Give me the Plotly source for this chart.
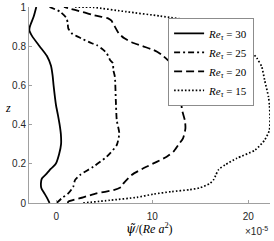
import plotly.graph_objects as go

# Re_tau = 30 (solid)
z30 = [0, 0.025, 0.05, 0.075, 0.1, 0.125, 0.15, 0.175, 0.2, 0.25, 0.3, 0.35, 0.4, 0.45, 0.5, 0.6, 0.65, 0.7, 0.75, 0.8, 0.85, 0.88, 0.9, 0.95, 1.0]
psi30 = [-0.7, -0.95, -1.25, -1.55, -1.6, -1.5, -1.0, -0.55, -0.05, 0.3, 0.5, 0.48, 0.35, 0.17, -0.03, -0.28, -0.38, -0.55, -0.97, -1.74, -2.5, -2.8, -2.75, -2.36, -2.08]

# Re_tau = 25 (dash-dot)
z25 = [0, 0.024, 0.049, 0.083, 0.117, 0.143, 0.185, 0.236, 0.296, 0.356, 0.423, 0.526, 0.645, 0.679, 0.713, 0.73, 0.764, 0.781, 0.806, 0.815, 0.84, 0.866, 0.891, 0.917, 0.942, 0.976, 1.0]
psi25 = [0.04, 0.56, 1.25, 1.77, 1.95, 2.47, 3.85, 5.25, 6.3, 6.56, 6.3, 6.2, 6.1, 5.94, 5.9, 5.6, 5.25, 4.9, 4.2, 3.69, 2.6, 1.6, 1.25, 1.19, 1.08, 0.39, -0.7]

# Re_tau = 20 (dashed)
z20 = [0, 0.007, 0.029, 0.049, 0.066, 0.083, 0.10, 0.143, 0.177, 0.21, 0.236, 0.262, 0.296, 0.33, 0.38, 0.42, 0.474, 0.52, 0.6, 0.68, 0.72, 0.755, 0.772, 0.785, 0.80, 0.82, 0.84, 0.866, 0.9, 0.917, 0.93, 0.942, 0.95, 0.96, 0.971, 0.985, 1.0]
psi20 = [1.2, 1.25, 2.8, 4.2, 5.97, 6.8, 7.0, 7.85, 9.07, 10.46, 11.5, 12.2, 12.7, 13.2, 13.45, 13.4, 13.1, 13.0, 12.8, 12.3, 11.8, 11.0, 10.5, 9.9, 9.0, 7.85, 7.1, 6.5, 6.1, 5.9, 5.75, 5.4, 4.7, 3.8, 3.0, 1.95, 0.8]

# Re_tau = 15 (dotted)
z15 = [0, 0.014, 0.029, 0.045, 0.058, 0.068, 0.078, 0.10, 0.12, 0.14, 0.17, 0.195, 0.228, 0.27, 0.321, 0.372, 0.44, 0.5, 0.542, 0.627, 0.695, 0.738, 0.8, 0.86, 0.9, 0.925, 0.954, 0.976, 0.998, 1.0]
psi15 = [2.8, 5.6, 8.4, 10.1, 12.0, 13.9, 15.0, 16.0, 16.4, 16.6, 16.9, 17.6, 18.8, 20.7, 21.7, 22.2, 22.26, 22.2, 22.1, 21.7, 21.4, 20.9, 19.8, 18.0, 16.2, 14.8, 10.8, 7.3, 3.85, 1.8]

labels = ["<i>Re</i><sub><i>τ</i></sub> = 30", "<i>Re</i><sub><i>τ</i></sub> = 25",
          "<i>Re</i><sub><i>τ</i></sub> = 20", "<i>Re</i><sub><i>τ</i></sub> = 15"]
x_ticks = [0, 10, 20]
x_ticklabels = ["0", "10", "20"]
y_ticks = [0, 0.2, 0.4, 0.6, 0.8, 1.0]
y_ticklabels = ["0", "0.2", "0.4", "0.6", "0.8", "1"]

series = [(psi30, z30, "solid", 1.8), (psi25, z25, "6px,3px,2px,3px", 1.8),
          (psi20, z20, "8px,4px", 1.8), (psi15, z15, "1.6px,2px", 1.7)]

fig = go.Figure()
for (xs, zs, dash, w), lab in zip(series, labels):
    fig.add_trace(go.Scatter(x=xs, y=zs, mode="lines", name=lab,
                             line=dict(color="black", width=w, dash=dash, shape="spline", smoothing=0.6)))

axis_col = "#a0a0a0"
fig.update_layout(
    width=274, height=241,
    margin=dict(l=29, r=4, t=7, b=38, autoexpand=False),
    paper_bgcolor="white", plot_bgcolor="white",
    showlegend=True,
    legend=dict(x=0.934, y=0.945, xanchor="right", yanchor="top",
                bgcolor="white", bordercolor="#8c8c8c", borderwidth=1,
                font=dict(family="Liberation Serif", size=11, color="black"),
                tracegroupgap=0, itemwidth=30),
    xaxis=dict(range=[-2.84, 22.26], tickvals=x_ticks, ticktext=x_ticklabels, automargin=False,
               showline=True, linecolor=axis_col, linewidth=1, mirror=False,
               ticks="inside", ticklen=3, tickcolor=axis_col, showgrid=False, zeroline=False,
               ticklabelstandoff=4, ticklabeloverflow="allow",
               tickfont=dict(family="Liberation Sans", size=10, color="#262626")),
    yaxis=dict(range=[0, 1], tickvals=y_ticks, ticktext=y_ticklabels, automargin=False,
               showline=True, linecolor=axis_col, linewidth=1, mirror=False,
               ticks="inside", ticklen=3, tickcolor=axis_col, showgrid=False, zeroline=False,
               ticklabeloverflow="allow",
               tickfont=dict(family="Liberation Sans", size=10, color="#262626")),
    annotations=[
        dict(text="<span style='font-family:DejaVu Serif'><i>ψ̃</i></span>/(<i>Re a</i><sup>2</sup>)",
             xref="paper", yref="paper",
             x=0.5, y=-0.128, xanchor="center", yanchor="middle", showarrow=False,
             font=dict(family="Liberation Serif", size=12, color="black")),
        dict(text="×10<sup>-5</sup>", xref="paper", yref="paper",
             x=1.0, y=-0.143, xanchor="right", yanchor="middle", showarrow=False,
             font=dict(family="Liberation Sans", size=10, color="#262626")),
        dict(text="<i>z</i>", xref="paper", yref="paper",
             x=-0.087, y=0.485, xanchor="center", yanchor="middle", showarrow=False,
             font=dict(family="Liberation Serif", size=12, color="black")),
    ],
)

fig.write_html("out.html", config={"displayModeBar": False},
               post_script="document.body.style.margin='0';document.body.style.overflow='hidden';")
